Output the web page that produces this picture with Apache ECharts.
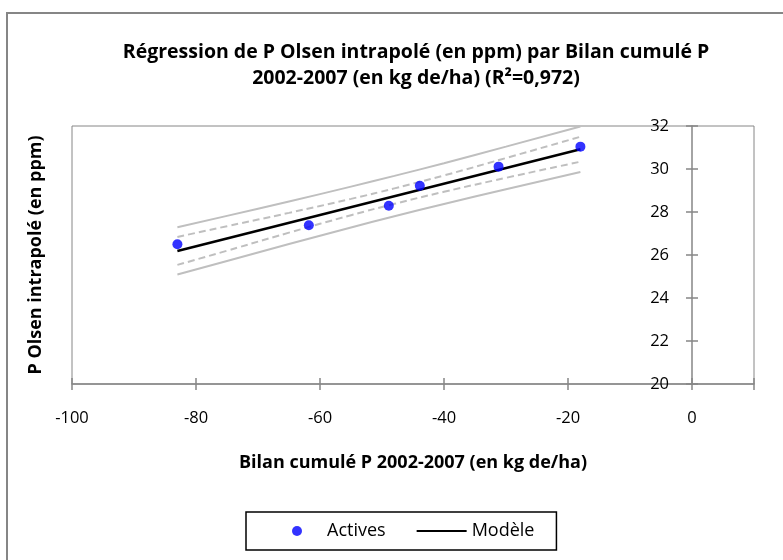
<!DOCTYPE html>
<html><head><meta charset="utf-8">
<script src="https://cdn.jsdelivr.net/npm/echarts@6/dist/echarts.min.js"></script>
<style>html,body{margin:0;padding:0;background:#fff}#c{width:783px;height:560px}</style>
</head><body><div id="c"></div>
<script>
// ---- data ----
const titleText = 'Régression de P Olsen intrapolé (en ppm) par Bilan cumulé P\n2002-2007 (en kg de/ha) (R²=0,972)';
const xAxisTitle = 'Bilan cumulé P 2002-2007 (en kg de/ha)';
const yAxisTitle = 'P Olsen intrapolé (en ppm)';
const seriesNames = ['Actives', 'Modèle'];
const activesX = [-83, -61.8, -48.9, -43.9, -31.2, -18];
const activesY = [26.5, 27.38, 28.29, 29.22, 30.11, 31.04];
const modelX = [-83, -18];
const modelY = [26.19, 30.92];
const bandX   = [-83, -75, -65, -55, -48, -40, -30, -18];
const upperPI = [27.29, 27.82, 28.49, 29.18, 29.68, 30.27, 31.04, 31.98];
const lowerPI = [25.09, 25.72, 26.51, 27.28, 27.80, 28.37, 29.06, 29.86];
const upperCI = [26.84, 27.34, 27.96, 28.61, 29.10, 29.70, 30.51, 31.50];
const lowerCI = [25.54, 26.20, 27.04, 27.85, 28.38, 28.94, 29.59, 30.34];
const xMin = -100, xMax = 10, xStep = 20;
const yMin = 20, yMax = 32, yStep = 2;

const FONT = "'Open Sans', 'Noto Sans', sans-serif";
const GRAY = '#868686';
const BAND = '#BFBFBF';
const zip = (a, b) => a.map((v, i) => [v, b[i]]);

const GRID_LEFT = 72, GRID_RIGHT = 29;
const chartW = 783;
// the value axis crosses the category axis at x = 0
const plotW = chartW - GRID_LEFT - GRID_RIGHT;
const yAxisOffset = -plotW * (0 - xMin) / (xMax - xMin);

const chart = echarts.init(document.getElementById('c'), null, {renderer: 'canvas'});
const bandSeries = (name, ys, dashed) => ({
  name, type: 'line', data: zip(bandX, ys), smooth: true, symbol: 'none', silent: true,
  lineStyle: {color: BAND, width: 2, type: dashed ? [7, 4] : 'solid'}, z: 2
});
chart.setOption({
  animation: false,
  backgroundColor: '#fff',
  title: {
    text: titleText, left: 411, top: 34, textAlign: 'center',
    textStyle: {fontFamily: FONT, fontSize: 19.5, fontWeight: 'bold', color: '#000', lineHeight: 26}
  },
  graphic: [
    {type: 'rect', shape: {x: 7, y: 13, width: 900, height: 700}, style: {fill: 'none', stroke: GRAY, lineWidth: 2}, silent: true, z: -10},
    {type: 'text', x: 36, y: 255, rotation: Math.PI / 2,
     style: {text: yAxisTitle, font: "bold 18px 'Open Sans', sans-serif", fill: '#000', align: 'center', verticalAlign: 'middle'}}
  ],
  grid: {left: GRID_LEFT, right: GRID_RIGHT, top: 126, bottom: 176, show: true, borderColor: GRAY, borderWidth: 1, containLabel: false},
  legend: {
    left: 246, top: 512, padding: [10, 22, 10, 46], borderColor: '#000', borderWidth: 1.5,
    itemGap: 30, itemWidth: 50, itemHeight: 10,
    textStyle: {fontFamily: FONT, fontSize: 18, color: '#000'},
    data: [seriesNames[0], {name: seriesNames[1], itemStyle: {opacity: 0}}]
  },
  xAxis: [
    {type: 'value', min: xMin, max: xMax, interval: xStep, position: 'bottom',
     splitLine: {show: false},
     axisLine: {show: true, onZero: false, lineStyle: {color: GRAY, width: 1.5}},
     axisTick: {show: true, length: 6, lineStyle: {color: GRAY, width: 1.5}},
     axisLabel: {margin: 26, fontFamily: FONT, fontSize: 16.5, color: '#000',
                 formatter: v => (v > 0 ? '' : String(v))},
     name: xAxisTitle, nameLocation: 'middle', nameGap: 70,
     nameTextStyle: {fontFamily: FONT, fontSize: 18, fontWeight: 'bold', color: '#000'}},
    {type: 'value', min: xMin, max: xMax, interval: xStep, position: 'bottom',
     splitLine: {show: false},
     axisLine: {show: false, onZero: false},
     axisTick: {show: true, inside: true, length: 6, lineStyle: {color: GRAY, width: 1.5}},
     axisLabel: {show: false}}
  ],
  yAxis: [
    {type: 'value', min: yMin, max: yMax, interval: yStep, position: 'left', offset: yAxisOffset,
     splitLine: {show: false},
     axisLine: {show: true, onZero: false, lineStyle: {color: GRAY, width: 1.5}},
     axisTick: {show: true, length: 6, lineStyle: {color: GRAY, width: 1.5}},
     axisLabel: {margin: 23, fontFamily: FONT, fontSize: 16.5, color: '#000'}},
    {type: 'value', min: yMin, max: yMax, interval: yStep, position: 'left', offset: yAxisOffset,
     splitLine: {show: false},
     axisLine: {show: false, onZero: false},
     axisTick: {show: true, inside: true, length: 6, lineStyle: {color: GRAY, width: 1.5}},
     axisLabel: {show: false}}
  ],
  series: [
    bandSeries('PI sup', upperPI, false),
    bandSeries('PI inf', lowerPI, false),
    bandSeries('IC sup', upperCI, true),
    bandSeries('IC inf', lowerCI, true),
    {name: 'Modèle', type: 'line', data: zip(modelX, modelY), symbol: 'none',
     lineStyle: {color: '#000', width: 2.5}, itemStyle: {color: '#000'}, z: 3},
    {name: 'Actives', type: 'scatter', data: zip(activesX, activesY), symbol: 'circle', symbolSize: 10,
     itemStyle: {color: '#0000FF'}, z: 4}
  ]
});
</script></body></html>
